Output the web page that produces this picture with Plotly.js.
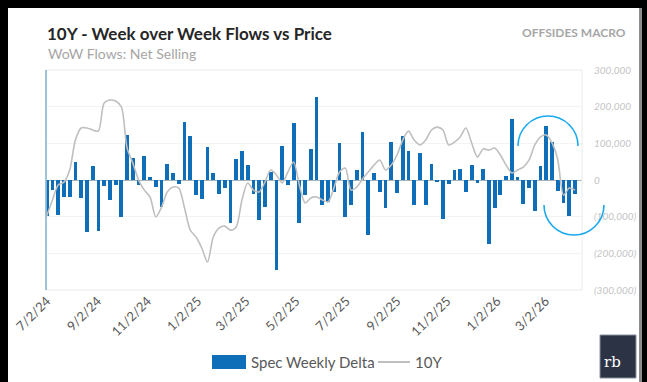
<!DOCTYPE html>
<html><head><meta charset="utf-8">
<script src="https://cdn.plot.ly/plotly-3.0.1.min.js"></script>
<style>html,body{margin:0;padding:0;background:#000;} #chart{width:647px;height:382px;}</style>
</head><body><div id="chart"></div>
<script>
// ---- data ----
const startDate = [2024, 6, 2]; // first weekly observation, 7/2/24
const specWeeklyDeltaK = [-98,-27,-96,-46,-47,50,-48,-142,39,-139,
  -16,-55,-14,-100,123,59,-14,66,9,-18,
  -73,44,18,-10,157,121,-41,-52,91,18,
  -38,-23,-116,57,79,41,-38,-110,-73,23,
  -245,93,-14,155,-116,-41,84,226,-68,-59,
  -32,102,-100,-67,26,131,-149,18,-34,-76,
  104,-35,121,78,-68,75,-68,44,-5,-107,
  -11,26,29,-34,41,-7,29,-175,-75,-41,
  11,167,9,-66,-23,-84,39,146,105,-29,
  -64,-98,-38];
const tenYearPrice = [109.71,110.43,111.10,111.23,111.77,113.11,113.65,113.65,113.56,113.51,
  114.77,114.90,114.86,114.59,112.75,112.08,111.32,110.87,110.56,109.67,
  110.11,110.79,111.01,110.96,110.07,109.08,108.77,108.28,107.65,108.77,
  109.17,109.26,109.08,109.22,110.43,111.19,110.87,110.79,111.23,111.77,
  111.55,111.19,111.68,112.13,111.10,110.29,110.52,110.56,110.43,110.34,
  110.96,111.68,111.86,110.87,111.01,111.37,111.68,111.99,112.22,111.77,
  111.99,112.44,113.11,113.51,113.11,112.89,113.11,113.56,113.69,113.56,
  112.89,113.02,113.25,113.65,112.98,112.35,112.71,112.66,112.75,112.44,
  111.99,111.64,111.77,111.90,112.22,112.89,113.25,113.34,112.98,112.22,
  110.65,110.96,110.87];
const xTickDates = ['2024-07-02','2024-09-02','2024-11-02','2025-01-02','2025-03-02','2025-05-02',
  '2025-07-02','2025-09-02','2025-11-02','2026-01-02','2026-03-02'];
const xTickText = ['7/2/24','9/2/24','11/2/24','1/2/25','3/2/25','5/2/25','7/2/25','9/2/25','11/2/25','1/2/26','3/2/26'];
const yTickVals = [300000,200000,100000,0,-100000,-200000,-300000];
const yTickText = ['300,000','200,000','100,000','0','(100,000)','(200,000)','(300,000)'];

// ---- build ----
const weeks = specWeeklyDeltaK.map((_, i) =>
  new Date(Date.UTC(startDate[0], startDate[1], startDate[2] + 7 * i)).toISOString().slice(0, 10));
const flows = specWeeklyDeltaK.map(v => v * 1000);

const W = 647, H = 382, L = 46, R = 65, T = 70, B = 92;
const PW = W - L - R, PH = H - T - B;
const px = x => (x - L) / PW;
const py = y => (H - B - y) / PH;

function arc(cx, cy, r, up) {
  const k = 0.5523, s = up ? -1 : 1;
  const p = (x, y) => px(x).toFixed(5) + ',' + py(y).toFixed(5);
  return 'M' + p(cx - r, cy) +
    ' C' + p(cx - r, cy + s * k * r) + ' ' + p(cx - k * r, cy + s * r) + ' ' + p(cx, cy + s * r) +
    ' C' + p(cx + k * r, cy + s * r) + ' ' + p(cx + r, cy + s * k * r) + ' ' + p(cx + r, cy);
}

const FONT = 'Lato, "Open Sans", sans-serif';

const traces = [
  {type: 'bar', x: weeks, y: flows, name: 'Spec Weekly Delta',
   marker: {color: '#0e6eb8'}, width: 4.6 * 86400000, showlegend: false},
  {type: 'scatter', mode: 'lines', x: weeks, y: tenYearPrice, name: '10Y', yaxis: 'y2',
   line: {color: '#bfbfbf', width: 1.6, shape: 'spline', smoothing: 0.8}, showlegend: false}
];

const shapes = [
  // white card
  {type: 'rect', xref: 'paper', yref: 'paper', layer: 'below',
   x0: px(8), x1: px(640), y0: py(383), y1: py(8), fillcolor: '#ffffff', line: {width: 0}},
  {type: 'line', xref: 'paper', yref: 'paper', x0: px(640.5), x1: px(640.5), y0: py(383), y1: py(8),
   line: {color: '#8c8c8c', width: 3}},
  // plot border
  {type: 'rect', xref: 'paper', yref: 'paper', x0: 0, x1: 1, y0: 0, y1: 1,
   line: {color: '#ebebeb', width: 1}},
  {type: 'line', xref: 'paper', yref: 'paper', x0: 0, x1: 0, y0: 0, y1: 1,
   line: {color: '#7fb2cf', width: 1.5}},
  // highlight arcs
  {type: 'path', xref: 'paper', yref: 'paper', path: arc(548, 146, 30, true),
   line: {color: '#1aa9ec', width: 1.6}},
  {type: 'path', xref: 'paper', yref: 'paper', path: arc(574, 205, 30, false),
   line: {color: '#1aa9ec', width: 1.6}},
  // legend symbols
  {type: 'rect', xref: 'paper', yref: 'paper', x0: px(212), x1: px(246), y0: py(369), y1: py(355),
   fillcolor: '#0e6eb8', line: {width: 0}},
  {type: 'line', xref: 'paper', yref: 'paper', x0: px(378), x1: px(410), y0: py(362), y1: py(362),
   line: {color: '#bfbfbf', width: 2}},
  // logo box
  {type: 'rect', xref: 'paper', yref: 'paper', x0: px(600), x1: px(636), y0: py(378), y1: py(335),
   fillcolor: '#2b3345', line: {color: '#8a909c', width: 1}}
];

const annotations = [
  {xref: 'paper', yref: 'paper', x: px(46), y: py(54), xanchor: 'left', yanchor: 'middle',
   text: 'WoW Flows: Net Selling', showarrow: false, font: {family: FONT, size: 14, color: '#a6a6a6'}},
  {xref: 'paper', yref: 'paper', x: px(628), y: py(33), xanchor: 'right', yanchor: 'middle',
   text: '<b>OFFSIDES MACRO</b>', showarrow: false, font: {family: FONT, size: 12, color: '#a6a6a6'}},
  {xref: 'paper', yref: 'paper', x: px(249), y: py(362), xanchor: 'left', yanchor: 'middle',
   text: 'Spec Weekly Delta', showarrow: false, font: {family: FONT, size: 15, color: '#595959'}},
  {xref: 'paper', yref: 'paper', x: px(413), y: py(362), xanchor: 'left', yanchor: 'middle',
   text: '10Y', showarrow: false, font: {family: FONT, size: 15, color: '#595959'}},
  {xref: 'paper', yref: 'paper', x: px(612), y: py(362), xanchor: 'center', yanchor: 'middle',
   text: 'rb', showarrow: false, font: {family: '"DejaVu Serif", "Liberation Serif", serif', size: 15, color: '#ffffff'}}
];

const layout = {
  width: W, height: H,
  margin: {l: L, r: R, t: T, b: B, pad: 0},
  paper_bgcolor: '#000000', plot_bgcolor: 'rgba(0,0,0,0)',
  showlegend: false,
  bargap: 0,
  title: {text: '<b>10Y - Week over Week Flows vs Price</b>', x: 47 / W, xanchor: 'left',
          y: 1 - 34 / H, yanchor: 'middle', xref: 'container', yref: 'container',
          font: {family: FONT, size: 17, color: '#262626'}},
  xaxis: {type: 'date', range: ['2024-07-01 03:30', '2026-04-15 12:00'],
          tickmode: 'array', tickvals: xTickDates, ticktext: xTickText, tickangle: -45,
          ticks: '', showgrid: false, zeroline: false, showline: false,
          tickfont: {family: FONT, size: 13, color: '#595959'}},
  yaxis: {side: 'right', range: [-300000, 300000], tickmode: 'array', tickvals: yTickVals, ticktext: yTickText,
          ticks: 'outside', ticklen: 9, tickcolor: 'rgba(0,0,0,0)',
          showgrid: true, gridcolor: '#f3f3f3', zeroline: true, zerolinecolor: '#a9b3bd', zerolinewidth: 1,
          showline: false, tickfont: {family: FONT, size: 10, color: '#c4c4c4', style: 'italic'}},
  yaxis2: {overlaying: 'y', side: 'left', range: [106.40, 116.245], visible: false, showgrid: false, zeroline: false},
  shapes: shapes,
  annotations: annotations
};

Plotly.newPlot('chart', traces, layout, {displayModeBar: false, staticPlot: true});
</script>
</body></html>
